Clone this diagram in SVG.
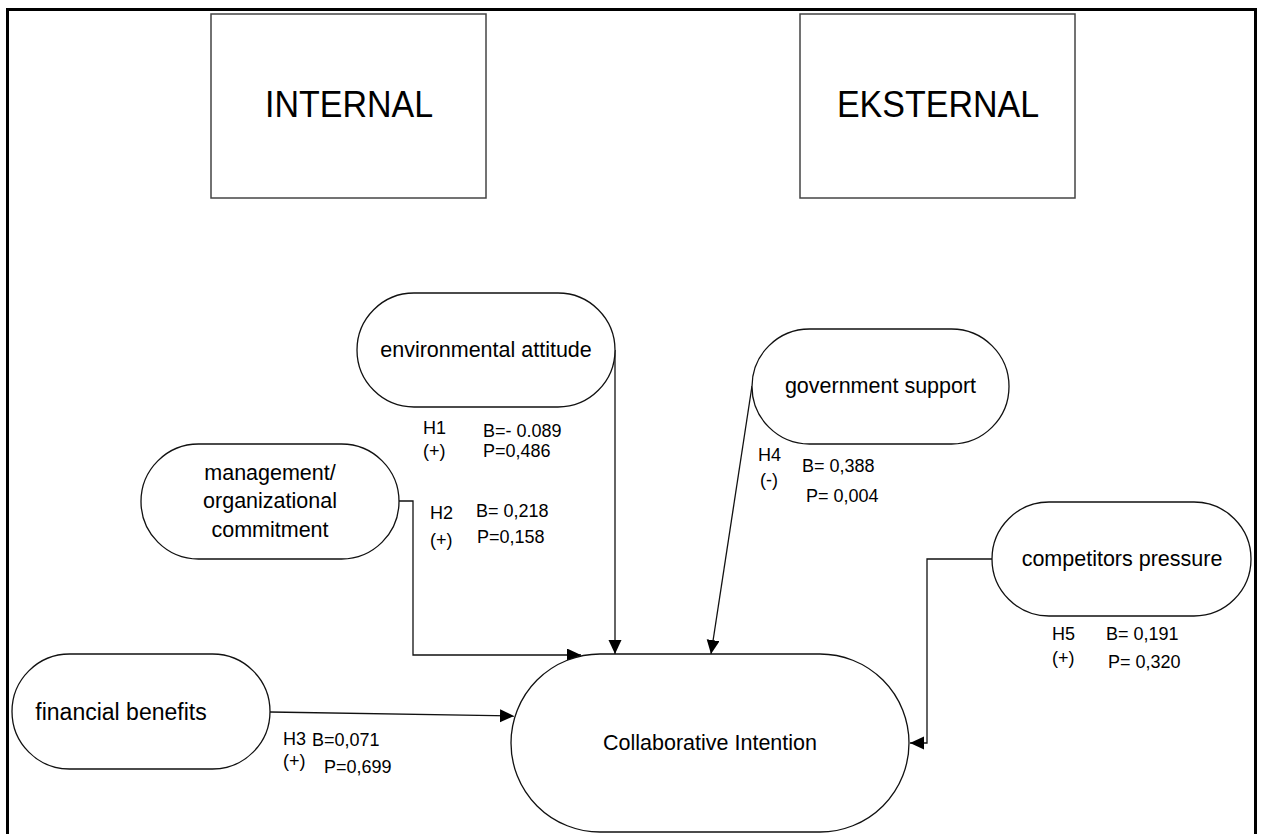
<svg xmlns="http://www.w3.org/2000/svg" width="1262" height="834" viewBox="0 0 1262 834">
  <style>
    .frame { fill: none; stroke: #000; stroke-width: 3; }
    .box { fill: #fff; stroke: #444; stroke-width: 1.5; }
    .node { fill: #fff; stroke: #111; stroke-width: 1.3; }
    .big { font-family: "Liberation Sans", Arial, sans-serif; font-size: 34px; fill: #000; text-anchor: middle; }
    .lbl { font-family: "Liberation Sans", Arial, sans-serif; font-size: 21.5px; fill: #000; text-anchor: middle; }
    .stat { font-family: "Liberation Sans", Arial, sans-serif; font-size: 18px; fill: #000; }
    .edge { fill: none; stroke: #111; stroke-width: 1.3; marker-end: url(#arrow); }
  </style>
  <defs>
    <marker id="arrow" markerUnits="userSpaceOnUse" markerWidth="16" markerHeight="14" refX="14" refY="6.5" orient="auto">
      <path d="M0,0 L14,6.5 L0,13 z" fill="#000"/>
    </marker>
  </defs>

  <rect width="1262" height="834" fill="#fff"/>
  <rect class="frame" x="7.5" y="9.5" width="1248" height="900"/>

  <!-- category headers -->
  <g id="internal">
    <rect class="box" x="211" y="14" width="275" height="184"/>
    <text class="big" transform="translate(349,117) scale(1,1.1)">INTERNAL</text>
  </g>
  <g id="eksternal">
    <rect class="box" x="800" y="14" width="275" height="184"/>
    <text class="big" transform="translate(938,117) scale(1,1.1)">EKSTERNAL</text>
  </g>

  <!-- connectors -->
  <g id="connectors">
    <path class="edge" d="M615,350 V654"/>
    <path class="edge" d="M399,501 H413 V655 H581"/>
    <path class="edge" d="M270,712 L514,716"/>
    <path class="edge" d="M752,386 L711,654"/>
    <path class="edge" d="M992,559 H927 V743 H910"/>
  </g>

  <!-- constructs -->
  <g id="environmental-attitude">
    <rect class="node" x="357" y="293" width="258" height="114" rx="57"/>
    <text class="lbl" x="486" y="357">environmental attitude</text>
  </g>
  <g id="management-commitment">
    <rect class="node" x="141" y="444" width="258" height="115" rx="57.5"/>
    <text class="lbl" x="270" y="480">management/</text>
    <text class="lbl" x="270" y="508">organizational</text>
    <text class="lbl" x="270" y="537">commitment</text>
  </g>
  <g id="financial-benefits">
    <rect class="node" x="12" y="654" width="258" height="115" rx="57.5"/>
    <text class="lbl" x="121" y="720" style="font-size:23px">financial benefits</text>
  </g>
  <g id="government-support">
    <rect class="node" x="752" y="329" width="257" height="115" rx="57.5"/>
    <text class="lbl" x="880.5" y="393">government support</text>
  </g>
  <g id="competitors-pressure">
    <rect class="node" x="992" y="502" width="259" height="114" rx="57"/>
    <text class="lbl" x="1122" y="566">competitors pressure</text>
  </g>
  <g id="collaborative-intention">
    <rect class="node" x="511" y="654" width="398" height="178" rx="89"/>
    <text class="lbl" x="710" y="750">Collaborative Intention</text>
  </g>

  <!-- path statistics -->
  <g id="stats">
    <text class="stat" x="423" y="434">H1</text>
    <text class="stat" x="423" y="457">(+)</text>
    <text class="stat" x="483" y="437">B=- 0.089</text>
    <text class="stat" x="483" y="457">P=0,486</text>

    <text class="stat" x="430" y="519">H2</text>
    <text class="stat" x="430" y="546">(+)</text>
    <text class="stat" x="476" y="517">B= 0,218</text>
    <text class="stat" x="477" y="543">P=0,158</text>

    <text class="stat" x="283" y="745">H3</text>
    <text class="stat" x="283" y="767">(+)</text>
    <text class="stat" x="312" y="746">B=0,071</text>
    <text class="stat" x="324" y="773">P=0,699</text>

    <text class="stat" x="758" y="461">H4</text>
    <text class="stat" x="760" y="486">(-)</text>
    <text class="stat" x="802" y="472">B= 0,388</text>
    <text class="stat" x="806" y="502">P= 0,004</text>

    <text class="stat" x="1052" y="640">H5</text>
    <text class="stat" x="1052" y="664">(+)</text>
    <text class="stat" x="1106" y="640">B= 0,191</text>
    <text class="stat" x="1108" y="668">P= 0,320</text>
  </g>
</svg>
